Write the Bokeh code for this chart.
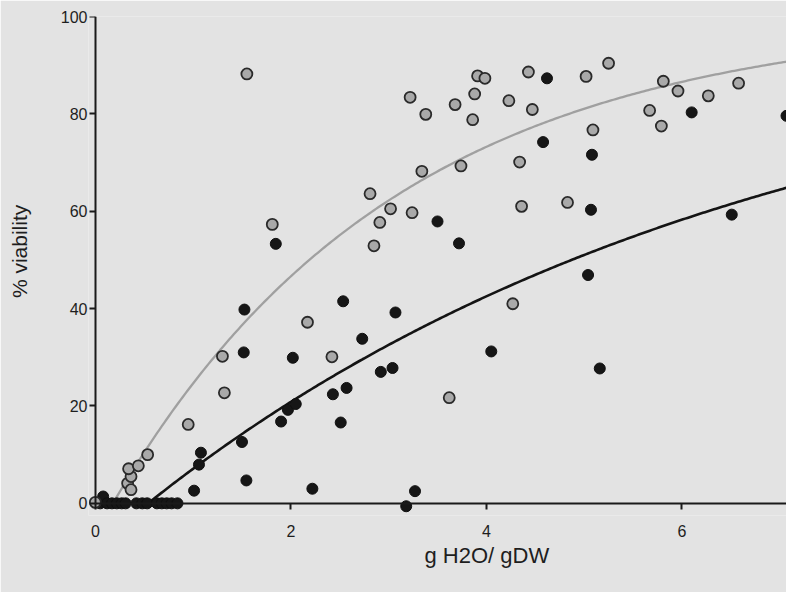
import numpy as np
from bokeh.plotting import figure
from bokeh.models import Range1d, ColumnDataSource, LinearAxis, FixedTicker, Title
from bokeh.embed import file_html
from bokeh.resources import INLINE

# light-grey series (symbols with grey fill)
gray_x = [0.00, 0.33, 0.365, 0.365, 0.34, 0.44, 0.535, 0.95, 1.30, 1.32,
          1.55, 1.81, 2.17, 2.42, 2.81, 2.85, 2.91, 3.02, 3.22, 3.24,
          3.34, 3.38, 3.62, 3.68, 3.74, 3.86, 3.88, 3.91, 3.985, 4.23,
          4.27, 4.34, 4.36, 4.43, 4.47, 4.83, 5.02, 5.09, 5.25, 5.67,
          5.79, 5.81, 5.96, 6.27, 6.58]
gray_y = [0.2, 4.1, 2.8, 5.5, 7.1, 7.7, 10.0, 16.2, 30.2, 22.7,
          88.2, 57.3, 37.2, 30.1, 63.6, 52.9, 57.7, 60.5, 83.4, 59.7,
          68.2, 79.9, 21.7, 81.9, 69.3, 78.8, 84.1, 87.8, 87.3, 82.7,
          41.0, 70.1, 61.0, 88.6, 80.9, 61.8, 87.7, 76.7, 90.4, 80.7,
          77.5, 86.7, 84.7, 83.7, 86.3]

# black series
black_x = [0.05, 0.08, 0.12, 0.17, 0.22, 0.27, 0.31, 0.42, 0.48, 0.53,
           0.63, 0.68, 0.73, 0.78, 0.84, 1.01, 1.06, 1.08, 1.50, 1.518,
           1.525, 1.545, 1.846, 1.90, 1.97, 2.02, 2.05, 2.22, 2.43, 2.51,
           2.535, 2.57, 2.73, 2.92, 3.04, 3.07, 3.18, 3.27, 3.50, 3.72,
           4.05, 4.58, 4.62, 5.04, 5.07, 5.08, 5.16, 6.10, 6.51, 7.07]
black_y = [0.0, 1.4, 0.0, 0.0, 0.0, 0.0, 0.0, 0.0, 0.0, 0.0,
           0.0, 0.0, 0.0, 0.0, 0.0, 2.6, 7.95, 10.4, 12.6, 31.0,
           39.8, 4.7, 53.3, 16.8, 19.2, 29.9, 20.4, 3.0, 22.4, 16.6,
           41.5, 23.7, 33.8, 27.0, 27.8, 39.2, -0.6, 2.5, 57.9, 53.4,
           31.2, 74.2, 87.3, 46.9, 60.3, 71.6, 27.7, 80.3, 59.3, 79.6]

x_ticks = [0, 2, 4, 6]
y_ticks = [0, 20, 40, 60, 80, 100]
x_title = "g H2O/ gDW"
y_title = "% viability"

# fitted saturation curves y = a * (1 - exp(-b * (x - x0)))
gray_fit = {"a": 100.0, "b": 0.345, "x0": 0.18}
black_fit = {"a": 100.0, "b": 0.16, "x0": 0.54}

BG = "#e3e3e3"
FONT = "Liberation Sans"
INK = "#1a1a1a"
TXT = "#1e1e1e"

p = figure(width=786, height=592,
           x_range=Range1d(-0.07, 7.07), y_range=Range1d(-2.5, 100),
           output_backend="svg", toolbar_location=None,
           min_border_left=88, min_border_right=0,
           min_border_top=16, min_border_bottom=77)
p.background_fill_color = BG
p.border_fill_color = BG
p.outline_line_color = None
p.grid.visible = False


def fit_curve(fit):
    xs = np.linspace(fit["x0"], 7.3, 300)
    ys = fit["a"] * (1.0 - np.exp(-fit["b"] * (xs - fit["x0"])))
    return xs, ys


gx, gy = fit_curve(gray_fit)
bx, by = fit_curve(black_fit)
p.line(gx, gy, line_color="#a0a0a0", line_width=2.3)
p.line(bx, by, line_color="#141414", line_width=2.6)

p.scatter(x="x", y="y", source=ColumnDataSource(dict(x=black_x, y=black_y)),
          size=11, fill_color="#161616", line_color="#101010", line_width=1)
p.scatter(x="x", y="y", source=ColumnDataSource(dict(x=gray_x, y=gray_y)),
          size=11, fill_color="#a9a9a9", line_color="#2a2a2a", line_width=1.8)

# label axes (in the side panels): tick text only
lab_x = p.xaxis[0]
lab_y = p.yaxis[0]
for ax in (lab_x, lab_y):
    ax.axis_line_color = None
    ax.major_tick_line_color = None
    ax.minor_tick_line_color = None
    ax.major_tick_in = 0
    ax.major_tick_out = 0
    ax.major_label_text_font = FONT
    ax.major_label_text_font_size = "16px"
    ax.major_label_text_color = TXT
    ax.axis_label_text_font = FONT
    ax.axis_label_text_font_size = "21px"
    ax.axis_label_text_font_style = "normal"
    ax.axis_label_text_color = TXT
lab_x.ticker = x_ticks
lab_y.ticker = y_ticks
lab_x.major_label_standoff = 9
lab_y.major_label_standoff = 1
# y title sits a little above the frame centre, as in the original
lab_y.axis_label = "\u00a0" * 5 + y_title
lab_y.axis_label_standoff = 27

# line + tick axes crossing at the origin
line_x = LinearAxis(ticker=FixedTicker(ticks=x_ticks), fixed_location=0,
                    bounds=(0, 7.07))
line_y = LinearAxis(ticker=FixedTicker(ticks=y_ticks), fixed_location=0,
                    bounds=(0, 100))
for ax in (line_x, line_y):
    ax.axis_line_width = 2
    ax.axis_line_color = INK
    ax.major_tick_line_color = INK
    ax.major_tick_line_width = 2
    ax.major_tick_in = 0
    ax.major_tick_out = 6
    ax.minor_tick_line_color = None
    ax.major_label_text_font_size = "0px"
    ax.major_label_standoff = 0
    ax.major_label_text_color = None
p.add_layout(line_x, "below")
p.add_layout(line_y, "left")

# x axis title, centred where the original (wider) axis had its middle
xt = Title(text=x_title, align="left", offset=336, standoff=2,
           text_font=FONT, text_font_size="22px", text_font_style="normal",
           text_color=TXT)
p.add_layout(xt, "below")

open("out.html", "w").write(file_html(p, INLINE))
